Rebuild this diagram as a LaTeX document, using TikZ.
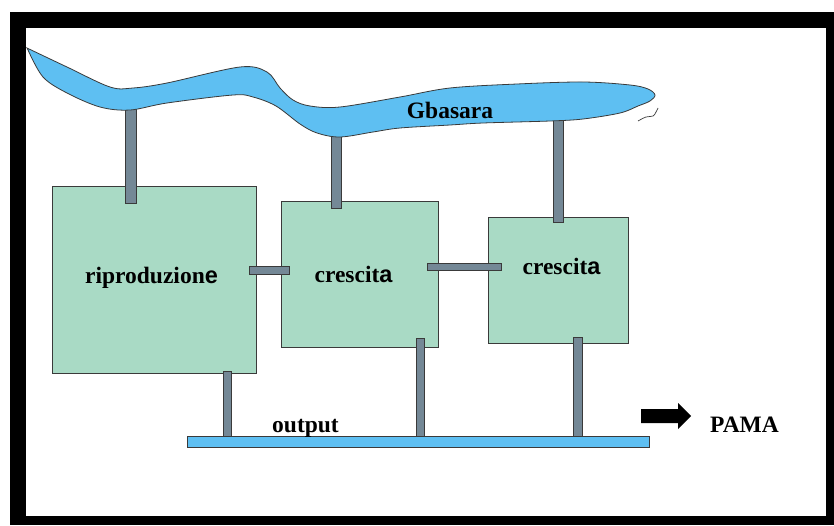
\documentclass[tikz,border=0pt]{standalone}
\usepackage{fontspec}
\setmainfont{Liberation Serif}
\setsansfont{Liberation Sans}
\definecolor{river}{HTML}{5EBFF2}
\definecolor{boxfill}{HTML}{A9DAC5}
\definecolor{pipefill}{HTML}{748896}
\definecolor{edge}{HTML}{3A3A3A}
\tikzset{
  box/.style={draw=edge, fill=boxfill, line width=0.8pt, inner sep=0pt},
  pipe/.style={draw=edge, fill=pipefill, line width=0.7pt},
  water/.style={draw=edge, fill=river, line width=0.8pt},
  lbl/.style={anchor=base, inner sep=0pt, font=\fontsize{23.5}{28}\selectfont\bfseries},
}
\begin{document}
\begin{tikzpicture}[x=1pt, y=-1pt]
\useasboundingbox (0,0) rectangle (834,525);
% frame
\fill[black] (10,12) rectangle (834,525);
\fill[white] (26,28) rectangle (826,516);
% boxes
\node[box, minimum width=204pt, minimum height=187pt] (ripr) at (154,279.5) {};
\node[box, minimum width=157pt, minimum height=146pt] (cres1) at (359.5,274) {};
\node[box, minimum width=140pt, minimum height=126pt] (cres2) at (558,280) {};
% output bar
\node[pipe, fill=river, draw=edge, minimum width=462pt, minimum height=11pt, inner sep=0pt] (bar) at (418,441.5) {};
% pipes
\draw[pipe] (125,108) rectangle (136,203);
\draw[pipe] (331,130) rectangle (341,208);
\draw[pipe] (553,115) rectangle (563,222);
\draw[pipe] (249,266) rectangle (289,274);
\draw[pipe] (427,263) rectangle (501,270);
\draw[pipe] (223,371) rectangle (231,436);
\draw[pipe] (416,338) rectangle (424,436);
\draw[pipe] (573,337) rectangle (582,436);
% river
\draw[water] plot[smooth, tension=0.55] coordinates {
 (27,48) (67,67) (110,87) (133,88) (167,83) (240,67) (267,72) (280,88)
 (293,100) (310,106) (340,107) (400,97) (450,88) (517,84) (583,82) (630,85)
 (648,89) (655,95) (650,101) (638,106) (620,113) (583,119) (550,121) (483,123) (450,125) (400,128)
 (373,132) (340,137) (317,133) (300,124) (276,106) (253,97) (233,95) (167,103)
 (130,110) (100,107) (67,93) (43,77) (28,50)} -- cycle;
\draw[edge, line width=0.7pt] plot[smooth, tension=0.6] coordinates {(638,121) (646,117) (653,116) (656,112) (658,108)};
% labels
\node[lbl] (tg) at (450,118) {Gbasara};
\node[lbl] (t1) at (151.5,283) {riproduzion{\sffamily e}};
\node[lbl] (t2) at (353.5,282) {crescit{\sffamily a}};
\node[lbl] (t3) at (561.5,274) {crescit{\sffamily a}};
\node[lbl] (tout) at (305.5,432) {output};
\node[lbl] (tp) at (744.5,432) {PAMA};
% arrow
\fill[black] (641,409) -- (678,409) -- (678,403) -- (691,416) -- (678,429) -- (678,423) -- (641,423) -- cycle;
\end{tikzpicture}
\end{document}
